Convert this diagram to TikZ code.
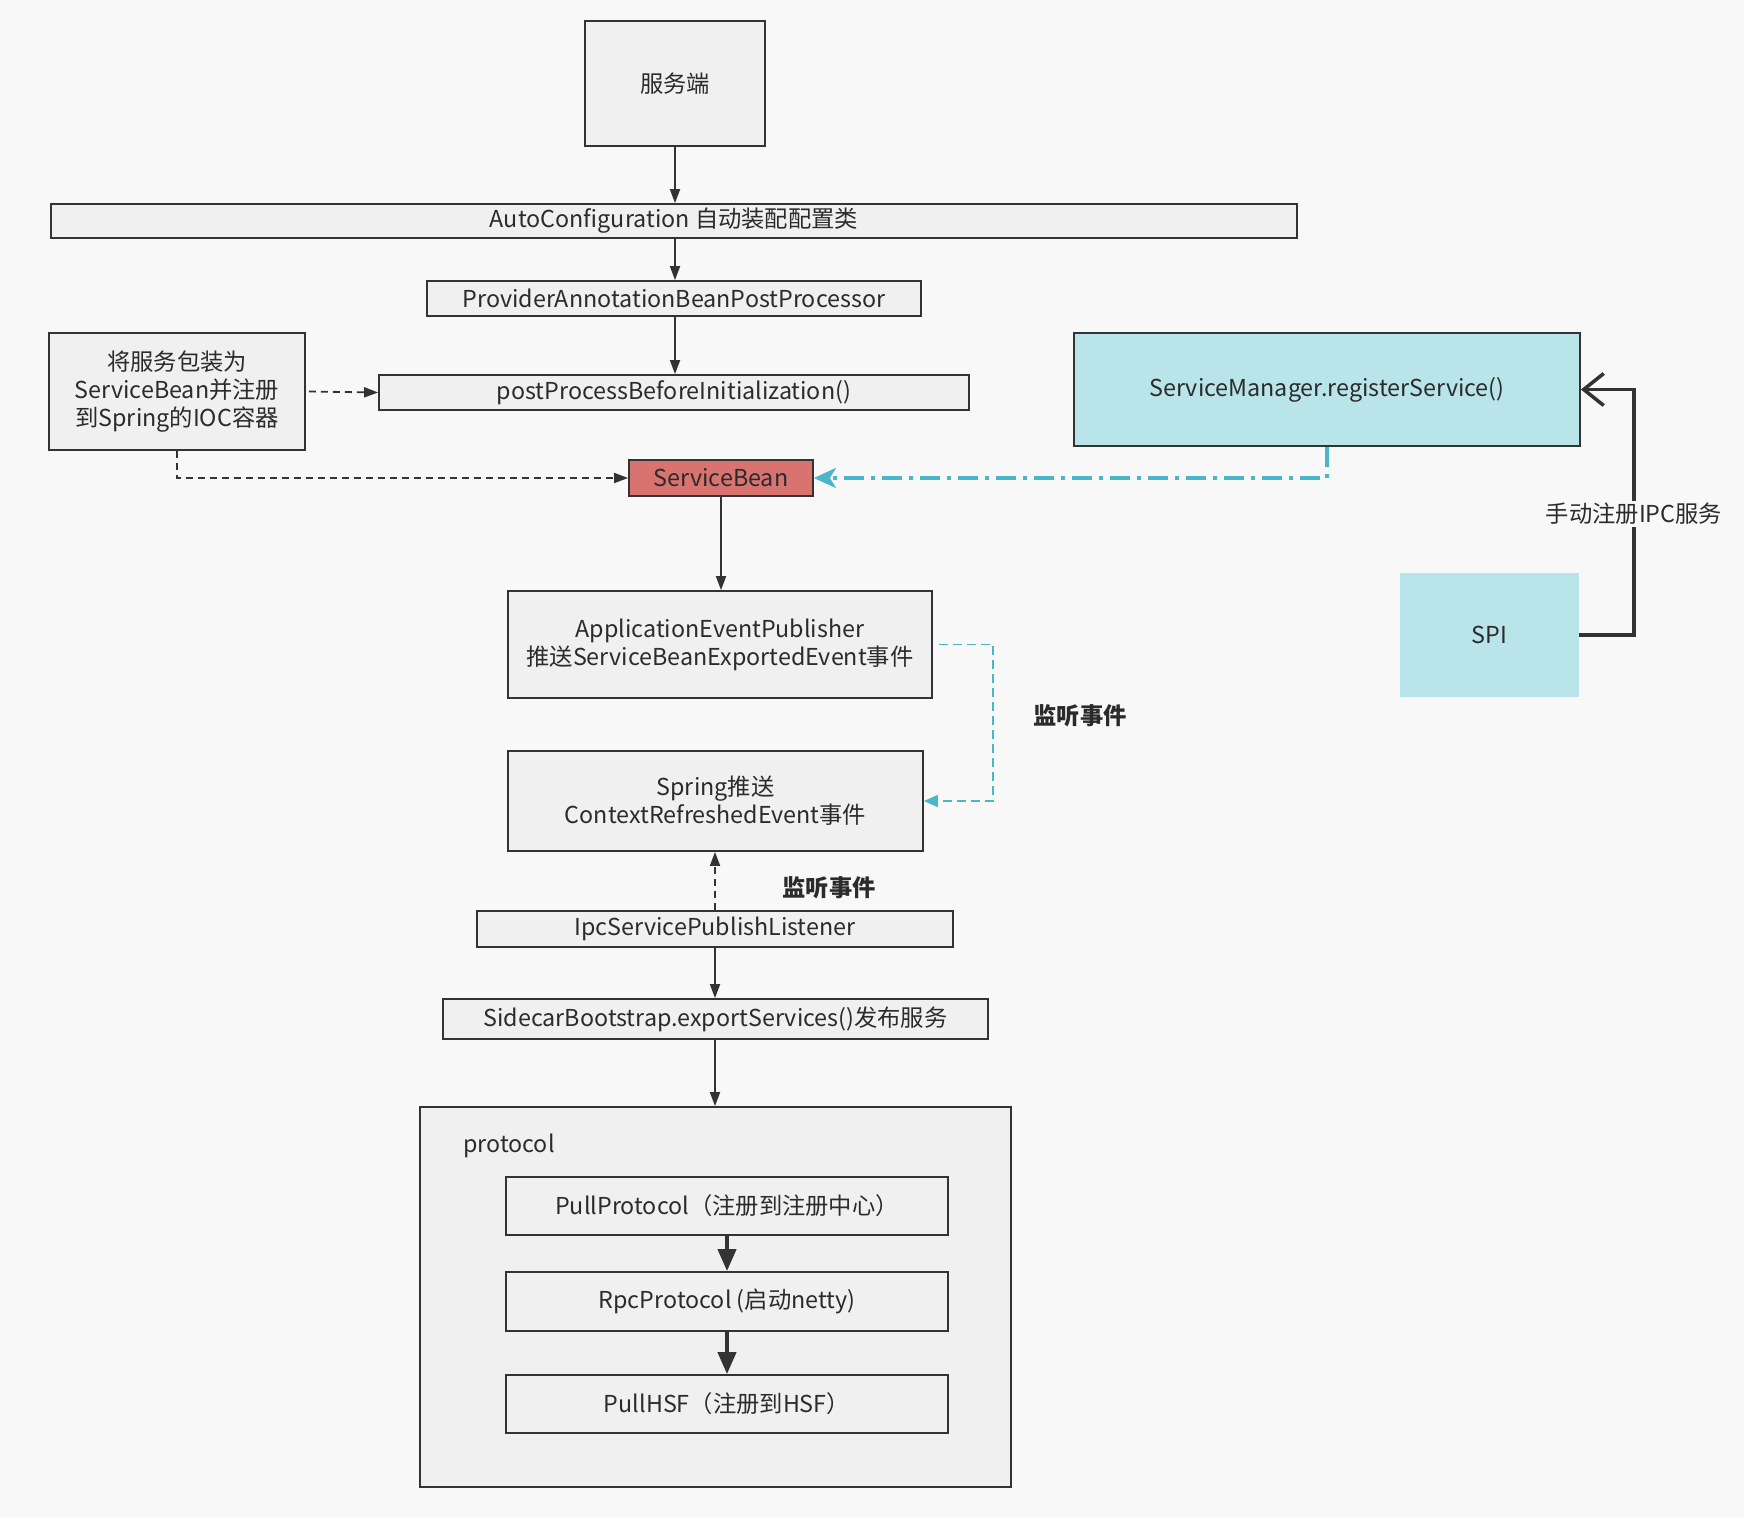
\documentclass[tikz,border=0pt]{standalone}
\usepackage{fontspec}
\setmainfont{Noto Sans CJK SC}
\usetikzlibrary{arrows.meta}
\definecolor{bg}{HTML}{F8F8F8}
\definecolor{boxfill}{HTML}{F0F0F0}
\definecolor{linec}{HTML}{333333}
\definecolor{txt}{HTML}{2B2B2B}
\definecolor{cyanfill}{HTML}{B8E4EA}
\definecolor{redfill}{HTML}{D9736F}
\definecolor{cyanline}{HTML}{4BB5C9}
\tikzset{
  box/.style={draw=linec, fill=boxfill, line width=1.8pt, inner sep=0pt, align=center, text=txt},
  arr/.style={draw=linec, line width=1.8pt, -{Triangle[length=14pt,width=10pt]}},
  darr/.style={arr, dash pattern=on 7pt off 5pt},
  thickarr/.style={draw=linec, line width=4pt, -{Triangle[length=22pt,width=18pt]}},
  cyandash/.style={draw=cyanline, line width=1.8pt, dash pattern=on 9pt off 5pt, -{Triangle[length=14pt,width=12pt,fill=cyanline]}},
  cyandashdot/.style={draw=cyanline, line width=3.5pt, dash pattern=on 20pt off 7pt on 4pt off 7pt, -{Stealth[length=22pt,width=20pt,inset=6pt]}},
  lab/.style={text=txt, inner sep=2pt},
}
\begin{document}
\begin{tikzpicture}[x=1pt, y=-1pt, font=\fontsize{23.3}{28}\selectfont]
\fill[bg] (0,0) rectangle (1744,1518);
\useasboundingbox (0,0) rectangle (1744,1518);

\node[box, minimum width=180pt, minimum height=125pt] (fwd) at (675,83.5) {服务端};
\node[box, minimum width=1246pt, minimum height=34pt] (auto) at (674,221) {AutoConfiguration 自动装配配置类};
\node[box, minimum width=494pt, minimum height=35pt] (prov) at (674,298.5) {ProviderAnnotationBeanPostProcessor};
\node[box, minimum width=256pt, minimum height=117pt] (wrap) at (177,391.5) {将服务包装为\\ServiceBean并注册\\到Spring的IOC容器};
\node[box, minimum width=590pt, minimum height=35pt] (post) at (674,392.5) {postProcessBeforeInitialization()};
\node[box, fill=cyanfill, minimum width=506pt, minimum height=113pt] (smgr) at (1327,389.5) {\raisebox{-3pt}{ServiceManager.registerService()}};
\node[box, fill=redfill, minimum width=184pt, minimum height=36pt] (sbean) at (721,478) {ServiceBean};
\node[box, minimum width=424pt, minimum height=107pt] (aep) at (720,644.5) {ApplicationEventPublisher\\推送ServiceBeanExportedEvent事件};
\node[box, minimum width=415pt, minimum height=100pt] (spring) at (715.5,801) {Spring推送\\ContextRefreshedEvent事件};
\node[box, minimum width=476pt, minimum height=36pt] (ipc) at (715,929) {IpcServicePublishListener};
\node[box, minimum width=545pt, minimum height=40pt] (side) at (715.5,1019) {SidecarBootstrap.exportServices()发布服务};
\node[box, minimum width=591pt, minimum height=380pt] (proto) at (715.5,1297) {};
\node[lab, anchor=west] (protolab) at (461,1146) {protocol};
\node[box, minimum width=442pt, minimum height=58pt] (pp) at (727,1206) {PullProtocol（注册到注册中心）};
\node[box, minimum width=442pt, minimum height=59pt] (rpc) at (727,1301.5) {RpcProtocol (启动netty)};
\node[box, minimum width=442pt, minimum height=58pt] (hsf) at (727,1404) {PullHSF（注册到HSF）};
\node[fill=cyanfill, minimum width=179pt, minimum height=124pt, inner sep=0pt, text=txt] (spi) at (1489.5,635) {SPI};

% connectors
\draw[arr] (fwd.south) -- (fwd.south |- auto.north);
\draw[arr] (fwd.south |- auto.south) -- (fwd.south |- prov.north);
\draw[arr] (fwd.south |- prov.south) -- (fwd.south |- post.north);
\draw[darr] ([xshift=3pt]wrap.east) -- (post.west);
\draw[darr] (wrap.south) |- (sbean.west);
\draw[cyandashdot] (smgr.south) |- (sbean.east);
\draw[arr] (sbean.south) -- (sbean.south |- aep.north);
\coordinate (bend) at (993,0);
\draw[cyandash] ([xshift=6pt]aep.east) -| (bend |- spring.east) -- (spring.east);
\node[lab, font=\fontsize{23.3}{28}\selectfont\bfseries] (l1) at (1080,716) {监听事件};
\draw[darr] (ipc.north) -- (ipc.north |- spring.south);
\node[lab, font=\fontsize{23.3}{28}\selectfont\bfseries] (l2) at (829,888) {监听事件};
\draw[arr] (ipc.south) -- (ipc.south |- side.north);
\draw[arr] (ipc.south |- side.south) -- (ipc.south |- proto.north);
\draw[thickarr] (pp.south) -- (rpc.north);
\draw[thickarr] (rpc.south) -- (hsf.north);
\coordinate (spibend) at (1634,0);
\draw[draw=linec, line width=3.5pt, -{Straight Barb[length=20pt,width=32pt]}] (spi.east) -| (spibend |- smgr.east) -- (smgr.east);
\node[lab, fill=bg, inner xsep=3pt] (l3) at (1634,514) {手动注册IPC服务};
\end{tikzpicture}
\end{document}
